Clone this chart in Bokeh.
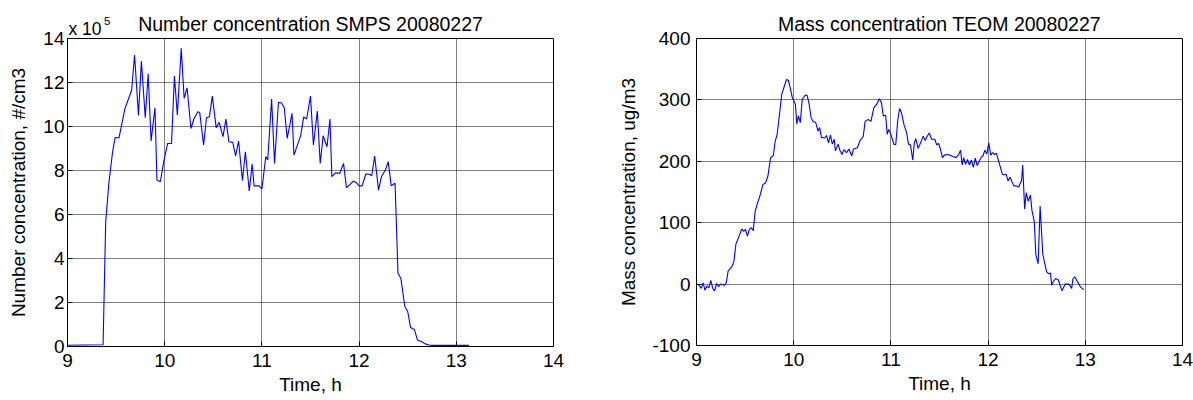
from bokeh.plotting import figure
from bokeh.layouts import row
from bokeh.models import Label, FixedTicker, Range1d
from bokeh.core.enums import CoordinateUnits
from bokeh.embed import file_html
from bokeh.resources import INLINE

# --- SMPS number concentration (units of 1e5 #/cm3) ---
smps_time_h = [
    9.00, 9.366, 9.393, 9.425, 9.464, 9.49, 9.53, 9.59, 9.66, 9.69, 9.73, 9.76,
    9.80, 9.83, 9.86, 9.90, 9.92, 9.955, 9.99, 10.03, 10.07, 10.10, 10.13,
    10.17, 10.20, 10.23, 10.27, 10.30, 10.34, 10.36, 10.40, 10.43, 10.46,
    10.49, 10.53, 10.56, 10.60, 10.63, 10.66, 10.70, 10.73, 10.76, 10.80,
    10.83, 10.87, 10.90, 10.92, 10.97, 11.00, 11.04, 11.06, 11.10, 11.13,
    11.17, 11.20, 11.23, 11.26, 11.31, 11.33, 11.40, 11.43, 11.46, 11.50,
    11.53, 11.57, 11.60, 11.63, 11.67, 11.70, 11.72, 11.76, 11.80, 11.84,
    11.87, 11.90, 11.94, 11.97, 12.00, 12.03, 12.07, 12.11, 12.13, 12.16,
    12.20, 12.23, 12.27, 12.30, 12.33, 12.37, 12.40, 12.43, 12.47, 12.50,
    12.53, 12.57, 12.60, 12.64, 12.68, 12.72, 12.75, 13.13,
]
smps_number_1e5 = [
    0.06, 0.08, 5.67, 7.40, 8.85, 9.50, 9.48, 10.80, 11.65, 13.25, 10.50, 12.97,
    10.40, 12.40, 9.34, 10.85, 7.57, 7.49, 8.40, 9.23, 9.23, 12.30, 10.52,
    13.55, 11.28, 11.76, 9.91, 10.34, 10.67, 10.64, 9.16, 10.40, 10.44,
    11.38, 9.94, 10.19, 9.54, 10.34, 9.31, 9.28, 8.67, 9.34, 7.54,
    8.85, 7.07, 8.29, 7.30, 7.30, 7.16, 8.63, 8.48, 11.25, 8.32,
    11.09, 11.08, 10.85, 9.46, 10.60, 8.70, 9.61, 10.44, 10.34, 11.38,
    9.16, 10.70, 8.32, 9.58, 9.08, 10.34, 7.72, 7.90, 7.87, 8.32,
    7.22, 7.34, 7.52, 7.45, 7.30, 7.30, 7.84, 7.83, 7.76, 8.66,
    7.11, 7.72, 8.02, 8.40, 7.31, 7.42, 3.33, 3.10, 1.82, 1.59,
    0.86, 0.76, 0.30, 0.23, 0.12, 0.07, 0.05, 0.05,
]

# --- TEOM mass concentration (ug/m3) ---
teom_time_h = [
    9.000, 9.028, 9.048, 9.068, 9.087, 9.107, 9.127, 9.147, 9.167, 9.187,
    9.207, 9.226, 9.246, 9.286, 9.306, 9.325, 9.365, 9.385, 9.405, 9.445,
    9.465, 9.485, 9.504, 9.524, 9.544, 9.564, 9.584, 9.604, 9.624, 9.651,
    9.683, 9.711, 9.735, 9.762, 9.790, 9.810, 9.830, 9.858, 9.877, 9.905,
    9.925, 9.945, 9.965, 9.985, 10.017, 10.032, 10.048, 10.068, 10.088,
    10.119, 10.139, 10.159, 10.179, 10.199, 10.227, 10.250, 10.266, 10.286,
    10.318, 10.338, 10.358, 10.378, 10.397, 10.417, 10.429, 10.457, 10.477,
    10.497, 10.516, 10.544, 10.568, 10.596, 10.616, 10.655, 10.683, 10.715,
    10.735, 10.767, 10.795, 10.824, 10.855, 10.879, 10.902, 10.922, 10.946,
    10.962, 10.978, 11.002, 11.030, 11.050, 11.070, 11.089, 11.109, 11.137,
    11.161, 11.181, 11.201, 11.225, 11.241, 11.256, 11.280, 11.300, 11.332,
    11.352, 11.371, 11.395, 11.419, 11.451, 11.471, 11.491, 11.510, 11.530,
    11.550, 11.590, 11.637, 11.669, 11.697, 11.717, 11.733, 11.749, 11.768,
    11.788, 11.808, 11.828, 11.848, 11.868, 11.887, 11.927, 11.947, 11.967,
    11.987, 12.007, 12.027, 12.046, 12.066, 12.086, 12.118, 12.146, 12.166,
    12.185, 12.205, 12.225, 12.265, 12.285, 12.316, 12.332, 12.344, 12.356,
    12.376, 12.392, 12.412, 12.435, 12.451, 12.475, 12.491, 12.515, 12.535,
    12.563, 12.602, 12.622, 12.642, 12.654, 12.666, 12.694, 12.721, 12.761,
    12.793, 12.832, 12.860, 12.872, 12.892, 12.920, 12.952, 12.984,
]
teom_mass_ugm3 = [
    0, -2, -7, 2, -10, -3, -6, 6, -7, -11,
    1, -4, 0, -2, 2, 21, 29, 37, 65, 81,
    90, 86, 89, 78, 89, 92, 87, 119, 130, 143,
    162, 165, 176, 206, 209, 233, 244, 282, 309, 323,
    333, 332, 319, 304, 293, 261, 274, 263, 301,
    308, 307, 293, 271, 265, 263, 249, 255, 239,
    238, 242, 230, 243, 228, 236, 217, 228, 217,
    211, 219, 214, 220, 209, 220, 222, 234, 240,
    265, 268, 265, 287, 293, 302, 296, 274, 275,
    244, 252, 243, 228, 227, 266, 286, 279, 258,
    247, 228, 227, 202, 230, 237, 221, 228, 241,
    234, 240, 246, 236, 236, 227, 229, 220, 206,
    210, 211, 208, 206, 211, 218, 194, 206, 195,
    203, 194, 202, 190, 205, 193, 206, 209, 218,
    212, 230, 210, 214, 211, 213, 195, 179, 178,
    179, 168, 174, 160, 160, 158, 165, 168, 194,
    122, 149, 135, 145, 120, 102, 48, 33, 127,
    48, 20, 17, 18, -2, 3, 9, 7, -11,
    0, 0, -7, 8, 12, 4, -5, -9, -12.5,
]

x_ticks = [9, 10, 11, 12, 13, 14]
smps_y_ticks = [0, 2, 4, 6, 8, 10, 12, 14]
teom_y_ticks = [-100, 0, 100, 200, 300, 400]

smps_title = "Number concentration SMPS 20080227"
teom_title = "Mass concentration TEOM 20080227"

FONT = "Liberation Sans"
LINE_BLUE = "#0000ff"
TEXT_SIZE = "19px"
TITLE_SIZE = "19.5px"

# panel geometry (pixels)
LEFT_W, RIGHT_W, H = 606, 587, 400
FRAME_W = 486
L_BORDER = (67, LEFT_W - 67 - FRAME_W, 37, 55)       # left, right, top, bottom
R_BORDER = (90, RIGHT_W - 90 - FRAME_W, 38, 55)

HAS_CANVAS_UNITS = "canvas" in CoordinateUnits


def canvas_label(p, text, cx, cy, size, place, align="left"):
    """Text at a fixed canvas position (top-left origin), hosted in a side
    panel so that it is not clipped to the data frame."""
    kw = dict(text=text, text_font=FONT, text_font_size=size, text_color="black",
              text_baseline="alphabetic", text_align=align)
    if HAS_CANVAS_UNITS:
        lbl = Label(x=cx, y=cy, x_units="canvas", y_units="canvas", **kw)
    else:
        left, right, top, bottom = p.min_border_left, p.min_border_right, p.min_border_top, p.min_border_bottom
        fb = H - bottom
        if place == "right":
            sx, sy = cx - (p.width - right), fb - cy
        else:
            sx, sy = cx - left, top - cy
        lbl = Label(x=sx, y=sy, x_units="screen", y_units="screen", **kw)
    p.add_layout(lbl, place)


def style(p, xlabel, ylabel, ytick_standoff, ylabel_standoff):
    p.outline_line_color = "black"
    p.outline_line_width = 1
    p.outline_line_alpha = 1
    for ax in (p.xaxis[0], p.yaxis[0]):
        ax.axis_line_color = "black"
        ax.major_tick_in = 5
        ax.major_tick_out = 0
        ax.minor_tick_line_color = None
        ax.major_label_text_font = FONT
        ax.major_label_text_font_size = TEXT_SIZE
        ax.major_label_text_color = "black"
        ax.axis_label_text_font = FONT
        ax.axis_label_text_font_size = TEXT_SIZE
        ax.axis_label_text_font_style = "normal"
        ax.axis_label_text_color = "black"
    p.xaxis[0].axis_label = xlabel
    p.yaxis[0].axis_label = ylabel
    p.xaxis[0].major_label_standoff = 7
    p.yaxis[0].major_label_standoff = ytick_standoff
    p.xaxis[0].axis_label_standoff = 4
    p.yaxis[0].axis_label_standoff = ylabel_standoff
    p.xaxis[0].ticker = FixedTicker(ticks=x_ticks)
    for g in (p.xgrid[0], p.ygrid[0]):
        g.grid_line_color = "black"
        g.grid_line_dash = "1 1"
        g.grid_line_alpha = 1
        g.grid_line_width = 1


def make_fig(width, border, y_range):
    left, right, top, bottom = border
    return figure(
        width=width, height=H, frame_width=FRAME_W, frame_height=H - top - bottom,
        min_border_left=left, min_border_right=right, min_border_top=top, min_border_bottom=bottom,
        x_range=Range1d(9, 14), y_range=y_range,
        output_backend="svg", toolbar_location=None,
    )


# Left panel: SMPS number concentration
p1 = make_fig(LEFT_W, L_BORDER, Range1d(0, 14))
style(p1, "Time, h", "Number concentration, #/cm3", 3, 11)
p1.yaxis[0].ticker = FixedTicker(ticks=smps_y_ticks)
p1.line(smps_time_h, smps_number_1e5, line_color=LINE_BLUE, line_width=1.1)
canvas_label(p1, smps_title, L_BORDER[0] + FRAME_W / 2, 23, TITLE_SIZE, "above", "center")
# y-axis multiplier "x 10^5" above the top-left corner of the frame
canvas_label(p1, "x 10", 68, 28.5, "17.5px", "right")
canvas_label(p1, "5", 103.5, 20.5, "11.5px", "right")

# Right panel: TEOM mass concentration
p2 = make_fig(RIGHT_W, R_BORDER, Range1d(-100, 400))
style(p2, "Time, h", "Mass concentration, ug/m3", 6, 10)
p2.yaxis[0].ticker = FixedTicker(ticks=teom_y_ticks)
# plain hyphen for negative tick labels
p2.yaxis[0].major_label_overrides = {t: str(t) for t in teom_y_ticks if t < 0}
p2.line(teom_time_h, teom_mass_ugm3, line_color=LINE_BLUE, line_width=1.1)
canvas_label(p2, teom_title, R_BORDER[0] + FRAME_W / 2, 23, TITLE_SIZE, "above", "center")

layout = row(p1, p2)
open("out.html", "w").write(file_html(layout, INLINE))
